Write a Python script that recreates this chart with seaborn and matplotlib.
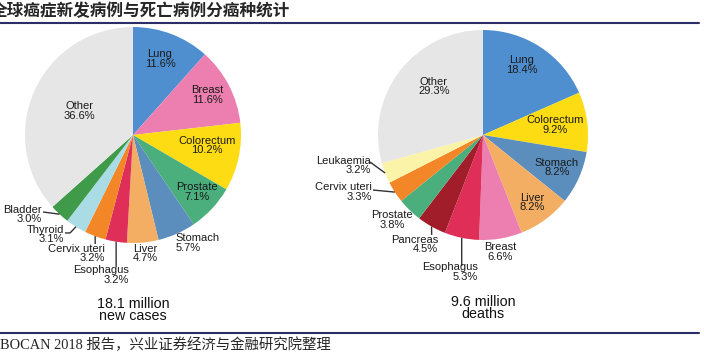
import numpy as np
import matplotlib
matplotlib.use("Agg")
import matplotlib.pyplot as plt
import seaborn as sns

# Data
cases_labels = ["Lung", "Breast", "Colorectum", "Prostate", "Stomach", "Liver",
                "Esophagus", "Cervix uteri", "Thyroid", "Bladder", "Other"]
cases_values = [11.6, 11.6, 10.2, 7.1, 5.7, 4.7, 3.2, 3.2, 3.1, 3.0, 36.6]

deaths_labels = ["Lung", "Colorectum", "Stomach", "Liver", "Breast", "Esophagus",
                 "Pancreas", "Prostate", "Cervix uteri", "Leukaemia", "Other"]
deaths_values = [18.4, 9.2, 8.2, 8.2, 6.6, 5.3, 4.5, 3.8, 3.3, 3.2, 29.3]

cases_total = "18.1 million\nnew cases"
deaths_total = "9.6 million\ndeaths"

# colours per cancer type
palette = {
    "Lung": "#4f8fd0", "Breast": "#ec7fb0", "Colorectum": "#fddc13",
    "Prostate": "#4bae7d", "Stomach": "#5b8ebc", "Liver": "#f3ae64",
    "Esophagus": "#df2e58", "Cervix uteri": "#f38627", "Thyroid": "#a9dce4",
    "Bladder": "#3f9b4a", "Other": "#e6e6e6", "Pancreas": "#a21d2a",
    "Leukaemia": "#fbf3a7",
}

# label placement (pie radius = 1)
cases_pos = [(0.25, 0.704, "center"), (0.685, 0.37, "center"), (0.685, -0.10, "center"),
             (0.593, -0.528, "center"), (0.398, -1.0, "left"), (0.111, -1.10, "center"),
             (-0.037, -1.296, "right"), (-0.259, -1.10, "right"), (-0.639, -0.921, "right"),
             (-0.843, -0.736, "right"), (-0.5, 0.222, "center")]
cases_hooks = [None, None, None, None, None, None,
               [(-0.156, -1.222)], [(-0.350, -1.009)],
               [(-0.630, -0.907), (-0.583, -0.907)], [(-0.833, -0.713)], None]

deaths_pos = [(0.371, 0.667, "center"), (0.686, 0.095, "center"), (0.705, -0.31, "center"),
              (0.467, -0.643, "center"), (0.162, -1.114, "center"), (-0.048, -1.305, "right"),
              (-0.429, -1.043, "right"), (-0.867, -0.81, "center"), (-1.057, -0.543, "right"),
              (-1.067, -0.29, "right"), (-0.467, 0.462, "center")]
deaths_hooks = [None, None, None, None, None,
                [(-0.203, -1.248)], [(-0.489, -0.952)], None,
                [(-1.048, -0.524)], [(-1.076, -0.257)], None]

sns.set_theme(style="white")
plt.rcParams["font.family"] = ["Liberation Sans", "DejaVu Sans"]

W, H = 704, 355
fig = plt.figure(figsize=(W / 100, H / 100), dpi=100)


def pie_panel(box, center, radius, labels, values, pos, hooks, total, total_y):
    left, top, right, bottom = box
    ax = fig.add_axes([left / W, 1 - bottom / H, (right - left) / W, (bottom - top) / H])
    colors = [palette[l] for l in labels]
    wedges, _ = ax.pie(values, radius=1, startangle=90, counterclock=False,
                       colors=colors, wedgeprops=dict(linewidth=0))
    ax.set_aspect("auto")
    cx, cy = center
    ax.set_xlim((left - cx) / radius, (right - cx) / radius)
    ax.set_ylim((cy - bottom) / radius, (cy - top) / radius)
    ax.axis("off")

    for w, name, v, (x, y, ha), hook in zip(wedges, labels, values, pos, hooks):
        ax.text(x, y, f"{name}\n{v}%", ha=ha, va="center", multialignment=ha,
                fontsize=8.0, color="#1a1a1a", linespacing=0.92)
        if hook:
            mid = np.deg2rad((w.theta1 + w.theta2) / 2)
            pts = hook + [(np.cos(mid), np.sin(mid))]
            xs, ys = zip(*pts)
            ax.plot(xs, ys, color="#333333", lw=1, solid_capstyle="butt")

    ax.text(0, (cy - total_y) / radius, total, ha="center", va="center",
            fontsize=10.3, color="#111111", linespacing=0.9)
    return ax


pie_panel((0, 25, 350, 330), (133, 135), 108, cases_labels, cases_values,
          cases_pos, cases_hooks, cases_total, 310)
pie_panel((350, 25, 704, 330), (483, 135), 105, deaths_labels, deaths_values,
          deaths_pos, deaths_hooks, deaths_total, 308)

# header, rules and source line
fig.text(-9 / W, 1 - 11 / H, "全球癌症新发病例与死亡病例分癌种统计", ha="left", va="center",
         fontsize=12, fontweight="bold", family=["Noto Sans CJK SC", "DejaVu Sans"])
for y in (22.5, 333):
    fig.add_artist(plt.Line2D([0, 699 / W], [1 - y / H, 1 - y / H],
                              color="#2b2d66", lw=1.5, transform=fig.transFigure))
fig.text(0, 1 - 345 / H, "BOCAN 2018 报告，兴业证券经济与金融研究院整理", ha="left", va="center",
         fontsize=10.4, family=["Liberation Serif", "Noto Sans CJK SC"])

fig.savefig("out.png", dpi=100)
